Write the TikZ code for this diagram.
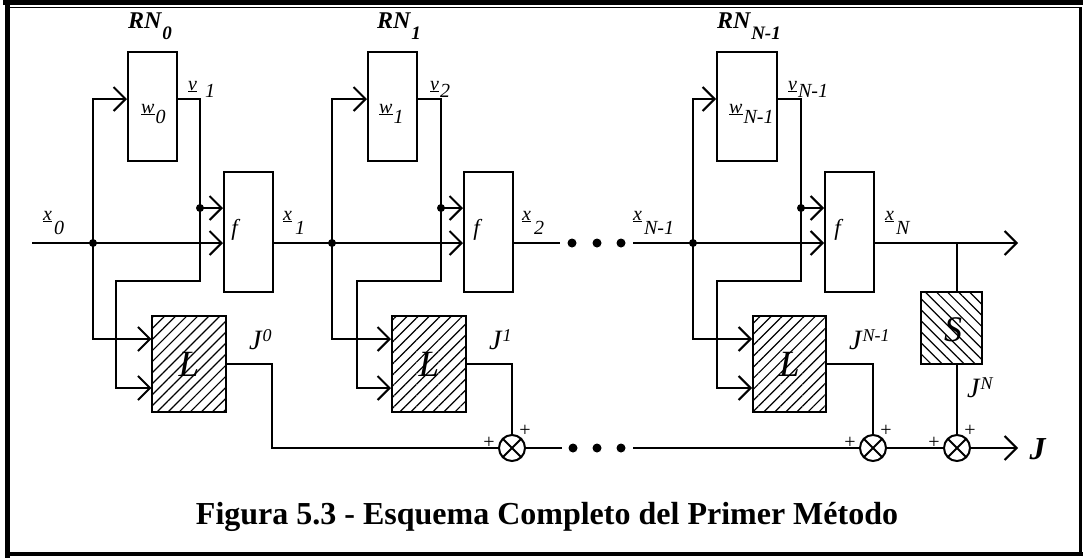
\documentclass[tikz,border=0pt]{standalone}
\usepackage{fontspec}
\setmainfont{Liberation Serif}
\usetikzlibrary{arrows.meta,patterns.meta,calc}
\newcommand\fs[1]{\fontsize{#1}{#1}\selectfont}
\newcommand\ulab[4]{\raisebox{#4}{\fs{20}\textit{\underline{#1}}}\hspace*{#3}{\fs{20}\textit{#2}}}
\newcommand\rnlab[1]{{\fs{24}\textbf{\textit{RN}}}\raisebox{-11pt}{\fs{19}\textbf{\textit{#1}}}}
\newcommand\jlab[1]{{\fs{28}\textit{J}}\raisebox{8pt}{\fs{18}\textit{#1}}}
\begin{document}
\begin{tikzpicture}[x=1pt,y=-1pt,
  ln/.style={line width=2pt},
  barb/.style={-{Straight Barb[length=12pt,width=24pt]}},
  barbs/.style={{Straight Barb[length=12pt,width=24pt]}-{Straight Barb[length=12pt,width=24pt]}},
  box/.style={draw,line width=2pt,inner sep=0pt,rectangle},
  hatchL/.style={pattern={Lines[angle=45,distance=7.8pt,line width=1.2pt]}},
  hatchS/.style={pattern={Lines[angle=-45,distance=7.8pt,line width=1.2pt]}},
  dot/.style={circle,fill,inner sep=0pt,minimum size=8pt},
  edot/.style={circle,fill,inner sep=0pt,minimum size=9pt},
  sum/.style={circle,draw,line width=2pt,minimum size=26pt,inner sep=0pt,
    path picture={\draw[line width=2pt] (path picture bounding box.north west) -- (path picture bounding box.south east) (path picture bounding box.south west) -- (path picture bounding box.north east);}},
  lab/.style={anchor=base west,inner sep=0pt},
  plus/.style={inner sep=0pt,font=\fs{20}}
]
\useasboundingbox (0,0) rectangle (1083,558);
% frame
\draw[line width=5pt] (3,2.5) -- (1083,2.5);
\draw[line width=1.5pt] (10,7.5) -- (1080.5,7.5);
\draw[line width=5pt] (7.5,0) -- (7.5,558);
\draw[line width=2.5pt] (1080.5,7) -- (1080.5,556);
\draw[line width=4pt] (5,554) -- (1083,554);

% row coordinates
\coordinate (yW) at (0,99);
\coordinate (yV) at (0,208);
\coordinate (yM) at (0,243);
\coordinate (yP) at (0,281);
\coordinate (yL1) at (0,339);
\coordinate (yLo) at (0,364);
\coordinate (yL2) at (0,388);
\coordinate (yB) at (0,448);

% boxes
\node[box,minimum width=49pt,minimum height=109pt] (w0) at (152.5,106.5) {};
\node[box,minimum width=49pt,minimum height=120pt] (f0) at (248.5,232) {};
\node[box,hatchL,minimum width=74pt,minimum height=96pt] (L0) at (189,364) {};
\node[box,minimum width=49pt,minimum height=109pt] (w1) at (392.5,106.5) {};
\node[box,minimum width=49pt,minimum height=120pt] (f1) at (488.5,232) {};
\node[box,hatchL,minimum width=74pt,minimum height=96pt] (L1) at (429,364) {};
\node[box,minimum width=60pt,minimum height=109pt] (w2) at (747,106.5) {};
\node[box,minimum width=49pt,minimum height=120pt] (f2) at (849.5,232) {};
\node[box,hatchL,minimum width=73pt,minimum height=96pt] (L2) at (789.5,364) {};
\node[box,hatchS,minimum width=61pt,minimum height=72pt] (S) at (951.5,328) {};

% sum junctions
\node[sum] (C1) at (512,448) {};
\node[sum] (C2) at (873,448) {};
\node[sum] (C3) at (957,448) {};

% junction dots
\node[dot] (j0) at (93,243) {};
\node[dot] (k0) at (200,208) {};
\node[dot] (j1) at (332,243) {};
\node[dot] (k1) at (441,208) {};
\node[dot] (j2) at (693,243) {};
\node[dot] (k2) at (801,208) {};

% helper coordinates
\coordinate (in0) at (32,243);
\coordinate (a0) at (93,99);
\coordinate (b0) at (200,281);
\coordinate (c0) at (116,281);
\coordinate (t0) at (272,448);
\coordinate (a1) at (332,99);
\coordinate (b1) at (441,281);
\coordinate (c1) at (357,281);
\coordinate (a2) at (693,99);
\coordinate (b2) at (801,281);
\coordinate (c2) at (717,281);
\coordinate (e1) at (560,243);
\coordinate (e2) at (633,243);
\coordinate (g1) at (562,448);
\coordinate (g2) at (633,448);
\coordinate (sx) at (957,243);
\coordinate (outN) at (1018,243);
\coordinate (Jend) at (1018,448);

% ellipsis dots
\node[edot] (m1) at (572,243) {};
\node[edot] (m2) at (597,243) {};
\node[edot] (m3) at (621,243) {};
\node[edot] (n1) at (573,448) {};
\node[edot] (n2) at (597,448) {};
\node[edot] (n3) at (621,448) {};

% stage 0
\draw[ln,barbs] (L0.west |- yL1) -| (a0) -- (w0.west |- yW);
\draw[ln,barb] (w0.east |- yW) -| (b0) -- (c0) |- (L0.west |- yL2);
\draw[ln,barb] (k0.center) -- (f0.west |- k0);
\draw[ln,barb] (in0) -- (f0.west |- in0);
\draw[ln] (L0.east |- yLo) -| (t0) -- (C1.west);
% stage 1
\draw[ln,barbs] (L1.west |- yL1) -| (a1) -- (w1.west |- yW);
\draw[ln,barb] (w1.east |- yW) -| (b1) -- (c1) |- (L1.west |- yL2);
\draw[ln,barb] (k1.center) -- (f1.west |- k1);
\draw[ln,barb] (f0.east |- in0) -- (f1.west |- in0);
\draw[ln] (L1.east |- yLo) -| (C1.north);
% stage N-1
\draw[ln,barbs] (L2.west |- yL1) -| (a2) -- (w2.west |- yW);
\draw[ln,barb] (w2.east |- yW) -| (b2) -- (c2) |- (L2.west |- yL2);
\draw[ln,barb] (k2.center) -- (f2.west |- k2);
\draw[ln] (f1.east |- in0) -- (e1);
\draw[ln,barb] (e2) -- (f2.west |- in0);
\draw[ln] (L2.east |- yLo) -| (C2.north);
\draw[ln,barb] (f2.east |- in0) -- (outN);
% bottom chain
\draw[ln] (C1.east) -- (g1);
\draw[ln] (g2) -- (C2.west);
\draw[ln] (C2.east) -- (C3.west);
\draw[ln,barb] (C3.east) -- (Jend);
% S branch
\draw[ln] (sx) -- (S.north -| sx);
\draw[ln] (S.south -| sx) -- (C3.north);

% labels
\node[lab] (rn0) at (128,28) {\rnlab{0}};
\node[lab] (rn1) at (377,28) {\rnlab{1}};
\node[lab] (rn2) at (717,28) {\rnlab{N-1}};
\node[lab] (lw0) at (141,123) {\ulab{w}{0}{1pt}{10pt}};
\node[lab] (lw1) at (379,123) {\ulab{w}{1}{1pt}{10pt}};
\node[lab] (lw2) at (729,123) {\ulab{w}{N-1}{1pt}{10pt}};
\node[lab] (lv0) at (188,97) {\ulab{v}{1}{8pt}{7pt}};
\node[lab] (lv1) at (430,97) {\ulab{v}{2}{1pt}{7pt}};
\node[lab] (lv2) at (788,97) {\ulab{v}{N-1}{1pt}{7pt}};
\node[lab] (lx0) at (43,234) {\ulab{x}{0}{2pt}{14pt}};
\node[lab] (lx1) at (283,234) {\ulab{x}{1}{3pt}{14pt}};
\node[lab] (lx2) at (522,234) {\ulab{x}{2}{3pt}{14pt}};
\node[lab] (lx3) at (633,234) {\ulab{x}{N-1}{2pt}{14pt}};
\node[lab] (lx4) at (885,234) {\ulab{x}{N}{2pt}{14pt}};
\node[inner sep=0pt,font=\fs{23}] (lf0) at (236,230) {\textit{f}};
\node[inner sep=0pt,font=\fs{23}] (lf1) at (478,230) {\textit{f}};
\node[inner sep=0pt,font=\fs{23}] (lf2) at (839,230) {\textit{f}};
\node[inner sep=0pt,font=\fs{37}] (lL0) at (L0) {\textit{L}};
\node[inner sep=0pt,font=\fs{37}] (lL1) at (L1) {\textit{L}};
\node[inner sep=0pt,font=\fs{37}] (lL2) at (L2) {\textit{L}};
\node[inner sep=0pt,font=\fs{36}] (lS) at (953,330) {\textit{S}};
\node[lab] (lj0) at (249,349) {\jlab{0}};
\node[lab] (lj1) at (489,349) {\jlab{1}};
\node[lab] (lj2) at (849,349) {\jlab{N-1}};
\node[lab] (lj3) at (967,397) {\jlab{N}};
\node[inner sep=0pt,font=\fs{32}] (lJ) at (1038,449) {\textbf{\textit{J}}};
\node[plus] (p1) at (489,443) {+};
\node[plus] (p2) at (525,431) {+};
\node[plus] (p3) at (850,443) {+};
\node[plus] (p4) at (886,431) {+};
\node[plus] (p5) at (934,443) {+};
\node[plus] (p6) at (970,431) {+};
\node[inner sep=0pt,font={\bfseries\fs{32}}] (cap) at (547,517) {Figura 5.3 - Esquema Completo del Primer Método};
\end{tikzpicture}
\end{document}
